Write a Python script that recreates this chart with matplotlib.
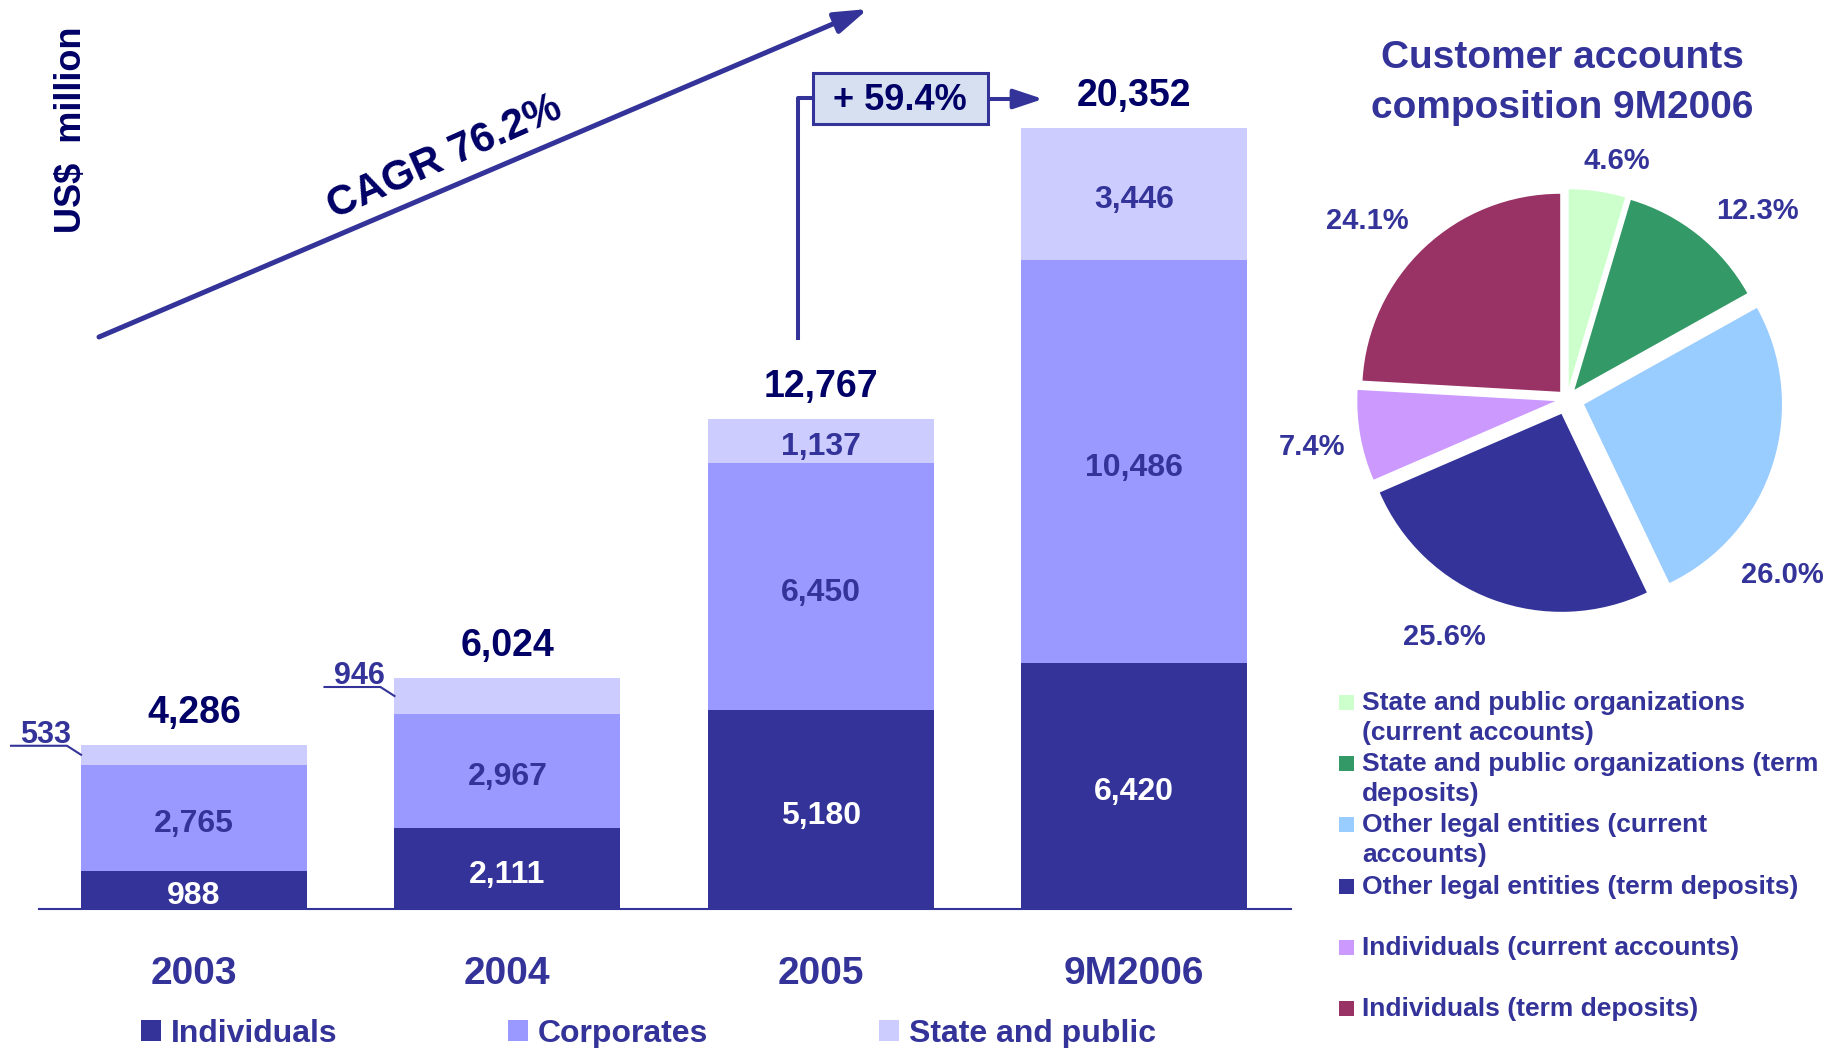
import numpy as np
import matplotlib
matplotlib.use('Agg')
import matplotlib.pyplot as plt
from matplotlib.lines import Line2D
from matplotlib.patches import Rectangle
from matplotlib.transforms import IdentityTransform

W, H = 1844, 1048

# bar chart data (US$ million)
periods = ['2003', '2004', '2005', '9M2006']
individuals = [988, 2111, 5180, 6420]
corporates = [2765, 2967, 6450, 10486]
state_public = [533, 946, 1137, 3446]
totals = [4286, 6024, 12767, 20352]
series_names = ['Individuals', 'Corporates', 'State and public']
cagr_text = 'CAGR 76.2%'
growth_text = '+ 59.4%'

# pie data (9M2006 composition, %)
pie_labels = ['State and public organizations\n(current accounts)',
              'State and public organizations (term\ndeposits)',
              'Other legal entities (current\naccounts)',
              'Other legal entities (term deposits)',
              'Individuals (current accounts)',
              'Individuals (term deposits)']
pie_shares = [4.6, 12.3, 26.0, 25.6, 7.4, 24.1]
pie_colors = ['#CCFFCC', '#339966', '#99CCFF', '#333399', '#CC99FF', '#993366']

plt.rcParams['font.family'] = ['Liberation Sans', 'DejaVu Sans']
plt.rcParams['font.weight'] = 'bold'
NAVY = '#000066'
BLUE = '#333399'

def fx(x):
    return x / W

def fy(y):  # y measured from the top
    return 1 - y / H

fig = plt.figure(figsize=(W / 100, H / 100), dpi=100)

# ---------------- stacked bars
ax = fig.add_axes([fx(39), 139 / H, 1252 / W, 909 / H])
x = np.arange(len(periods))
bw = 0.72
base2 = np.array(individuals)
base3 = base2 + np.array(corporates)
b1 = ax.bar(x, individuals, bw, color='#333399', label=series_names[0])
b2 = ax.bar(x, corporates, bw, bottom=base2, color='#9999FF', label=series_names[1])
b3 = ax.bar(x, state_public, bw, bottom=base3, color='#CCCCFF', label=series_names[2])
ax.set_xlim(-0.494, 3.5)
ax.set_ylim(0, 23690)
ax.axis('off')
ax.axhline(0, color=BLUE, lw=1.5, clip_on=False)

def seg_label(i, y, val, col):
    ax.annotate(f'{val:,}', (i, y), xytext=(0, -4.5), textcoords='offset points',
                ha='center', va='center', color=col, fontsize=23)

for i in x:
    seg_label(i, individuals[i] / 2, individuals[i], 'white')
    seg_label(i, base2[i] + corporates[i] / 2, corporates[i], BLUE)
    ax.annotate(f'{totals[i]:,}', (i, totals[i]), xytext=(0, 23), textcoords='offset points',
                ha='center', va='center', color=NAVY, fontsize=27)
    ax.annotate(periods[i], (i, 0), xytext=(0, -47), textcoords='offset points',
                ha='center', va='center', color=BLUE, fontsize=28)
    if i >= 2:
        seg_label(i, base3[i] + state_public[i] / 2, state_public[i], BLUE)
    else:
        # small segments: label outside with a leader line
        sx, sy = ax.transData.transform((i - bw / 2, base3[i] + state_public[i] / 2))
        fig.add_artist(Line2D([sx, sx - 14, sx - 70], [sy, sy + 9, sy + 9], color=BLUE, lw=1.5,
                              transform=IdentityTransform()))
        ax.annotate(f'{state_public[i]:,}', (sx - 35, sy + 20), xycoords='figure pixels',
                    ha='center', va='center', color=BLUE, fontsize=22)

# CAGR arrow
ax.annotate('', xy=(868, H - 9), xytext=(99, H - 337), xycoords='figure pixels',
            arrowprops=dict(arrowstyle='-|>,head_length=2.0,head_width=0.65', color=BLUE,
                            lw=3.6, shrinkA=0, shrinkB=0, mutation_scale=10))
fig.text(fx(445), fy(158), cagr_text, rotation=24, rotation_mode='anchor', ha='center',
         va='center', fontsize=30, color=NAVY)
fig.text(fx(71), fy(130), 'US$  million', rotation=90, ha='center', va='center',
         fontsize=26, color=NAVY)

# growth box 2005 -> 9M2006
fig.add_artist(Line2D([fx(798), fx(798), fx(813)], [fy(338), fy(98), fy(98)], color=BLUE,
                      lw=2.9, transform=fig.transFigure))
fig.add_artist(Rectangle((fx(813), fy(124)), 175 / W, 51 / H, transform=fig.transFigure,
                         fc='#D6E0F0', ec=BLUE, lw=2.2))
fig.text(fx(900), fy(101), growth_text, ha='center', va='center', fontsize=26, color=NAVY)
ax.annotate('', xy=(1043, H - 99), xytext=(988, H - 99), xycoords='figure pixels',
            arrowprops=dict(arrowstyle='-|>,head_length=1.8,head_width=0.6', color=BLUE,
                            lw=2.9, shrinkA=0, shrinkB=0, mutation_scale=10))

fig.legend(handles=[b1, b2, b3], loc='center left', bbox_to_anchor=(fx(141), 14 / H), ncol=3,
           frameon=False, fontsize=23, handlelength=0.63, handleheight=0.63,
           handletextpad=0.31, columnspacing=5.33, borderpad=0, borderaxespad=0,
           labelcolor=BLUE)

# ---------------- pie
pie_explode = [0.06, 0.06, 0.09, 0.08, 0.06, 0.05]
pct_pos = [(0.25, 1.20), (0.96, 0.95), (1.09, -0.89), (-0.62, -1.20), (-1.29, -0.24),
           (-1.01, 0.90)]
pax = fig.add_axes([fx(1270), 352 / H, 594 / W, 594 / H])
pax.pie(pie_shares, colors=pie_colors, explode=pie_explode, startangle=90, counterclock=False,
        radius=1, wedgeprops=dict(linewidth=0))
pax.set_xlim(-1.5, 1.5)
pax.set_ylim(-1.5, 1.5)
pax.axis('off')
for (lx, ly), s in zip(pct_pos, pie_shares):
    pax.text(lx, ly, f'{s:.1f}%', ha='center', va='center', color=BLUE, fontsize=21)

fig.text(fx(1562), fy(40), 'Customer accounts\ncomposition 9M2006', ha='center', va='top',
         fontsize=28, color=BLUE, linespacing=1.5)

for k, (lab, col) in enumerate(zip(pie_labels, pie_colors)):
    ty = 691 + 61.2 * k
    fig.add_artist(Rectangle((fx(1339), fy(ty + 19)), 15 / W, 15 / H, transform=fig.transFigure,
                             fc=col, ec='none'))
    fig.text(fx(1362), fy(ty), lab, ha='left', va='top', fontsize=19, color=BLUE,
             linespacing=1.3)

fig.savefig('out.png', dpi=100)
